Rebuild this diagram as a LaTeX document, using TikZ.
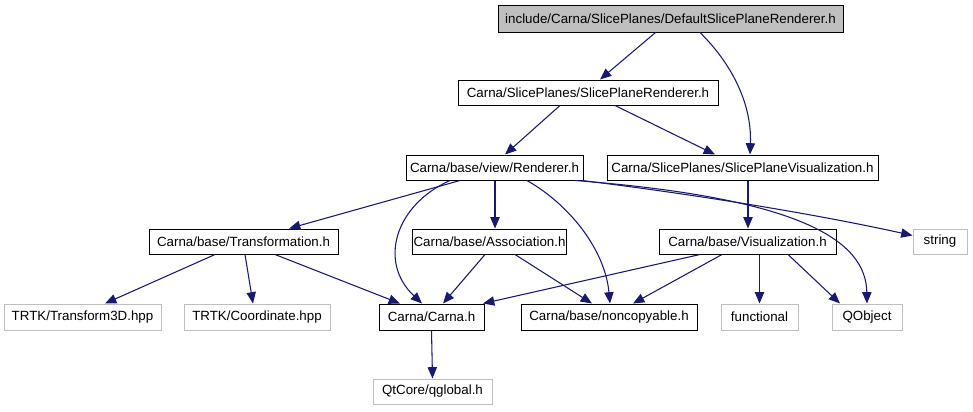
\documentclass[tikz,border=0pt]{standalone}
\usepackage{fontspec}
\setmainfont{Liberation Sans}
\usetikzlibrary{arrows.meta,calc}
\definecolor{edgeblue}{HTML}{191970}
\definecolor{extgray}{HTML}{BFBFBF}
\definecolor{topfill}{HTML}{BFBFBF}
\tikzset{
  box/.style={draw=black, line width=0.75pt, inner sep=0pt, minimum height=18.75pt, font=\fontsize{10}{12}\selectfont},
  extbox/.style={box, draw=extgray},
  edge/.style={draw=edgeblue, line width=0.8pt, -{Triangle[length=8.5pt,width=7pt]}},
}
\begin{document}
\begin{tikzpicture}[x=0.75pt,y=-0.75pt]
\useasboundingbox (0,0) rectangle (973,411);
% row 0
\node[box, fill=topfill, minimum width=258.75pt, minimum height=20.25pt] (top) at (670.5,18.5) {include/Carna/SlicePlanes/DefaultSlicePlaneRenderer.h};
% row 1
\node[box, minimum width=195pt] (spr) at (588,92.5) {Carna/SlicePlanes/SlicePlaneRenderer.h};
% row 2
\node[box, minimum width=132.75pt] (ren) at (494.5,167.5) {Carna/base/view/Renderer.h};
\node[box, minimum width=203.25pt] (spv) at (742.5,167.5) {Carna/SlicePlanes/SlicePlaneVisualization.h};
% row 3
\node[box, minimum width=141.75pt] (trans) at (243.5,241.5) {Carna/base/Transformation.h};
\node[box, minimum width=115.5pt] (assoc) at (489.5,241.5) {Carna/base/Association.h};
\node[box, minimum width=132.75pt] (vis) at (747.5,241.5) {Carna/base/Visualization.h};
\node[extbox, minimum width=40.5pt] (str) at (940,241.5) {string};
% row 4
\node[extbox, minimum width=117.75pt, minimum height=19.5pt] (t3d) at (82.5,317) {TRTK/Transform3D.hpp};
\node[extbox, minimum width=109.5pt, minimum height=19.5pt] (coord) at (257,317) {TRTK/Coordinate.hpp};
\node[box, minimum width=78.75pt, minimum height=19.5pt] (carna) at (431.5,317) {Carna/Carna.h};
\node[box, minimum width=132pt, minimum height=19.5pt] (noncop) at (609,317) {Carna/base/noncopyable.h};
\node[extbox, minimum width=57.75pt, minimum height=19.5pt] (func) at (759.5,317) {functional};
\node[extbox, minimum width=52.5pt, minimum height=19.5pt] (qobj) at (867,317) {QObject};
% row 5
\node[extbox, minimum width=89.25pt] (qglob) at (432.5,391.5) {QtCore/qglobal.h};
% edges
\draw[edge] ($(top.south)+(-15,0)$) -- ($(spr.north)+(12,0)$);
\draw[edge] ($(top.south)+(29.5,0)$) .. controls (728,60) and (752,100) .. ($(spv.north)+(7.5,0)$);
\draw[edge] ($(spr.south)+(-28,0)$) -- ($(ren.north)+(10.5,0)$);
\draw[edge] ($(spr.south)+(27,0)$) -- ($(spv.north)+(-27.5,0)$);
\draw[edge] ($(ren.south)+(-34.5,0)$) -- ($(trans.north)+(45.5,0)$);
\draw[edge] ($(ren.south)+(-44.5,0)$) .. controls (395,205) and (378,262) .. ($(carna.north)+(-9.5,0)$);
\draw[edge] ($(ren.south)+(0.5,0)$) -- ($(assoc.north)+(5.5,0)$);
\draw[edge] ($(ren.south)+(32.5,0)$) .. controls (570,205) and (605,250) .. ($(noncop.north)+(1,0)$);
\draw[edge] ($(ren.south)+(80.5,0)$) .. controls (800,198) and (866,240) .. ($(qobj.north)+(0,0)$);
\draw[edge] ($(ren.south)+(87.5,0)$) .. controls (700,195) and (820,215) .. ($(str.west)+(0,-6)$);
\draw[edge] ($(spv.south)+(5.5,0)$) -- ($(vis.north)+(0.5,0)$);
\draw[edge] ($(trans.south)+(-28.5,0)$) -- ($(t3d.north)+(22.5,0)$);
\draw[edge] ($(trans.south)+(1.5,0)$) -- ($(coord.north)+(-4,0)$);
\draw[edge] ($(trans.south)+(31.5,0)$) -- ($(carna.north)+(-31.5,0)$);
\draw[edge] ($(assoc.south)+(-4.5,0)$) -- ($(carna.north)+(11.5,0)$);
\draw[edge] ($(assoc.south)+(25.5,0)$) -- ($(noncop.north)+(-17,0)$);
\draw[edge] ($(vis.south)+(-47.5,0)$) -- ($(carna.north)+(51.5,0)$);
\draw[edge] ($(vis.south)+(-25.5,0)$) -- ($(noncop.north)+(24,0)$);
\draw[edge] ($(vis.south)+(12,0)$) -- ($(func.north)+(0,0)$);
\draw[edge] ($(vis.south)+(40.5,0)$) -- ($(qobj.north)+(-27,0)$);
\draw[edge] (carna.south) -- (qglob.north);
\end{tikzpicture}
\end{document}
